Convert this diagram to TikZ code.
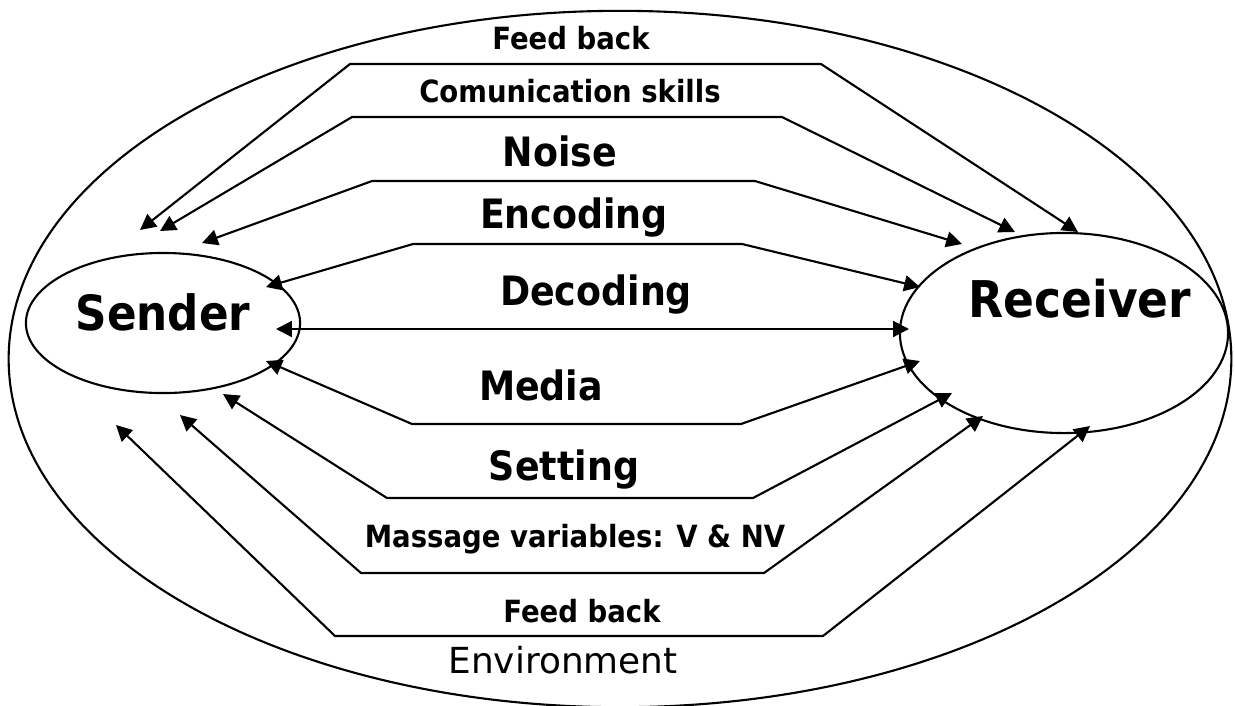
\documentclass[tikz,border=0pt]{standalone}
\usepackage{fontspec}
\setmainfont{DejaVu Sans}
\newfontfamily\lblfont{DejaVu Sans}[FakeStretch=0.9]
\usepackage{tikz}
\usetikzlibrary{arrows.meta,shapes.geometric,positioning}
\tikzset{
    party/.style={
    ellipse,draw=black,line width=0.6pt,inner sep=0pt
    },
    env/.style={
    ellipse,draw=black,line width=0.6pt,inner sep=0pt,minimum width=12.22cm,minimum height=6.96cm
    },
    link/.style={
    {Triangle[length=4.5pt,width=4.5pt]}-{Triangle[length=4.5pt,width=4.5pt]},line width=0.6pt
    },
    partylabel/.style={
    font=\lblfont\bfseries\fontsize{13.8}{16}\selectfont,anchor=base,inner sep=0pt
    },
    biglabel/.style={
    font=\lblfont\bfseries\fontsize{11.5}{13}\selectfont,anchor=base,inner sep=0pt
    },
    smalllabel/.style={
    font=\lblfont\bfseries\fontsize{8.7}{10}\selectfont,anchor=base,inner sep=0pt
    },
}

\begin{document}
\begin{tikzpicture}[x=0.01cm,y=-0.01cm]
   \useasboundingbox (0,0) rectangle (1235,705);
   % ellipses
   \node[env] (E) at (620,359) {};
   \node[party,minimum width=2.74cm,minimum height=1.4cm] (S) at (163,323) {};
   \node[party,minimum width=3.28cm,minimum height=2cm] (R) at (1064,333) {};
   \node[partylabel] (St) at (163,330) {Sender};
   \node[partylabel,font=\lblfont\bfseries\fontsize{14.4}{16}\selectfont] (Rt) at (1080,317) {Receiver};

   % arrow ends
   \coordinate (s1) at (140,230);  \coordinate (r1) at (1078,232);
   \coordinate (s2) at (160,231);  \coordinate (r2) at (1015,232);
   \coordinate (s3) at (202,243);  \coordinate (r3) at (962,244);
   \coordinate (s4) at (266,287);  \coordinate (r4) at (920,287);
   \coordinate (s5) at (276,329);  \coordinate (r5) at (909,329);
   \coordinate (s6) at (266,361);  \coordinate (r6) at (920,361);
   \coordinate (s7) at (223,394);  \coordinate (r7) at (952,393);
   \coordinate (s8) at (180,415);  \coordinate (r8) at (983,416);
   \coordinate (s9) at (116,425);  \coordinate (r9) at (1090,426);

   \draw[link] (s1) -- (350,64) -- (821,64) -- (r1);
   \draw[link] (s2) -- (352,117) -- (782,117) -- (r2);
   \draw[link] (s3) -- (372,181) -- (755,181) -- (r3);
   \draw[link] (s4) -- (413,244) -- (742,244) -- (r4);
   \draw[link] (s5) -- (r5);
   \draw[link] (s6) -- (412,424) -- (741,424) -- (r6);
   \draw[link] (s7) -- (387,498) -- (753,498) -- (r7);
   \draw[link] (s8) -- (361,573) -- (764,573) -- (r8);
   \draw[link] (s9) -- (335,636) -- (823,636) -- (r9);

   % labels
   \node[smalllabel] (fb1) at (571,49) {Feed back};
   \node[smalllabel] (cs) at (570,102) {Comunication skills};
   \node[biglabel] (no) at (560,166) {Noise};
   \node[biglabel] (en) at (574,228) {Encoding};
   \node[biglabel] (de) at (596,305) {Decoding};
   \node[biglabel] (me) at (541,400) {Media};
   \node[biglabel] (se) at (564,480) {Setting};
   \node[smalllabel] (mv) at (575,547) {Massage variables: V \& NV};
   \node[smalllabel] (fb2) at (582,622) {Feed back};
   \node[anchor=base,inner sep=0pt,font=\fontsize{10.2}{12}\selectfont] (Et) at (563,673) {Environment};
\end{tikzpicture}
\end{document}
